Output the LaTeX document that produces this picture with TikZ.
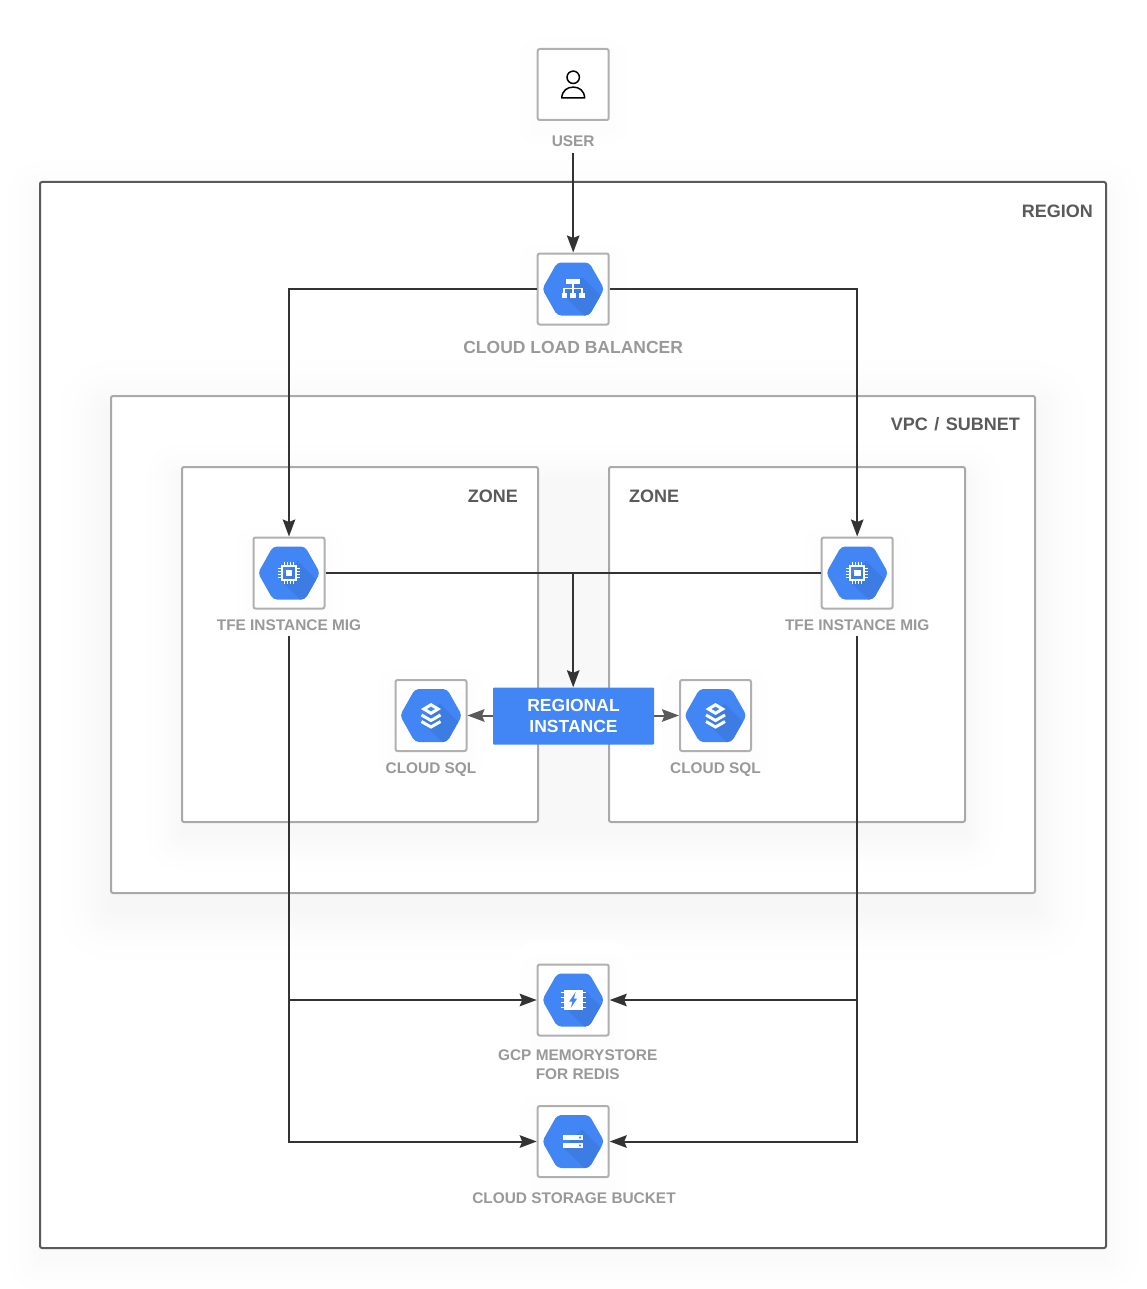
\documentclass[tikz,border=0pt]{standalone}
\usepackage{fontspec}
\setmainfont{Liberation Sans}
\usetikzlibrary{arrows.meta}
\usetikzlibrary{positioning}
\definecolor{gcpblue}{HTML}{4285F4}
\definecolor{gcpdark}{HTML}{3D7CE2}
\definecolor{boxgray}{HTML}{B0B0B0}
\definecolor{framegray}{HTML}{A9A9A9}
\definecolor{textgray}{HTML}{999999}
\definecolor{titlegray}{HTML}{5A5A5A}
\definecolor{linedark}{HTML}{333333}
\definecolor{linegray}{HTML}{5A5A5A}
% soft shadow: centre x, centre y, width, height, spread, peak
\newcommand{\softshadow}[6]{
    \foreach \k in {24,23,...,1} {
        \pgfmathsetmacro{\sh}{#5*\k/24}
        \pgfmathsetmacro{\gr}{#6*(1-\k/24)^2}
        \fill[black!\gr, rounded corners=\sh pt] (#1-#3/2-\sh, #2-#4/2-\sh+#5/4) rectangle (#1+#3/2+\sh, #2+#4/2+\sh+#5/4);
    }
}
\tikzset{
    iconbox/.style={draw=boxgray, line width=2pt, rounded corners=2pt, fill=white, minimum size=71pt, inner sep=0pt},
    framebox/.style={draw=framegray, line width=2pt, rounded corners=2pt, fill=white, inner sep=0pt},
    icontext/.style={text=textgray, font=\fontsize{15.4}{19}\selectfont\bfseries, align=center, inner sep=0pt},
    frametitle/.style={text=titlegray, font=\fontsize{18}{21}\selectfont\bfseries, inner sep=0pt},
    conn/.style={draw=linedark, line width=2pt},
    arr/.style={conn, -{Stealth[length=17pt, width=12.5pt, inset=2.5pt]}},
    arrgray/.style={draw=linegray, line width=2pt, -{Stealth[length=17pt, width=12.5pt, inset=2.5pt]}},
    pics/hexbase/.style={code={
        \begin{scope}
            \clip[rounded corners=4pt] (-31,0) -- (-16,-26.5) -- (16,-26.5) -- (31,0) -- (16,26.5) -- (-16,26.5) -- cycle;
            \fill[gcpblue] (-32,-28) rectangle (32,28);
            \fill[gcpdark] (9,-12) -- (32,11) -- (14,29) -- (-10,6) -- cycle;
        \end{scope}
    }},
    pics/lbicon/.style={code={
        \pic {hexbase};
        \fill[white] (-7,-10) rectangle (7,-5);
        \fill[white] (-11.5,4) rectangle (-6,9);
        \fill[white] (-3,4) rectangle (3,9);
        \fill[white] (6,4) rectangle (11.5,9);
        \draw[white, line width=1.6pt] (0,-5) -- (0,4) (-9,4) -- (-9,-0.5) -- (9,-0.5) -- (9,4);
    }},
    pics/chipicon/.style={code={
        \pic {hexbase};
        \draw[white, line width=2pt] (-7,-7) rectangle (7,7);
        \fill[white] (-3.3,-3.3) rectangle (3.3,3.3);
        \foreach \p in {-4.5,-1.5,1.5,4.5} {
            \draw[white, line width=1.2pt] (\p,-11) -- (\p,-7) (\p,7) -- (\p,11) (-11,\p) -- (-7,\p) (7,\p) -- (11,\p);
        }
    }},
    pics/sqlicon/.style={code={
        \pic {hexbase};
        \fill[white] (0,-12.5) -- (10,-6.5) -- (0,-0.5) -- (-10,-6.5) -- cycle;
        \fill[gcpblue] (0,-8.8) -- (4,-6.5) -- (0,-4.2) -- (-4,-6.5) -- cycle;
        \draw[white, line width=3pt] (-9.5,-0.5) -- (0,5) -- (9.5,-0.5);
        \draw[white, line width=3pt] (-9.5,6) -- (0,11.5) -- (9.5,6);
    }},
    pics/redisicon/.style={code={
        \pic {hexbase};
        \fill[white] (-9.3,-10) rectangle (9.3,10);
        \foreach \p in {-7.5,-2.5,2.5,7.5} {
            \draw[white, line width=1.5pt] (-12.7,\p) -- (-9,\p) (9,\p) -- (12.7,\p);
        }
        \fill[gcpblue] (2.5,-8) -- (-4,1.5) -- (-0.7,1.5) -- (-2.5,8) -- (4,-1.5) -- (0.7,-1.5) -- cycle;
    }},
    pics/bucketicon/.style={code={
        \pic {hexbase};
        \fill[white] (-10,-6.5) rectangle (10,-1.5);
        \fill[white] (-10,1.5) rectangle (10,6.5);
        \fill[gcpblue] (6,-4.8) rectangle (8,-3.2) (6,3.2) rectangle (8,4.8);
    }},
    pics/usericon/.style={code={
        \draw[black, line width=1.5pt] (0,-7.2) circle (6.2);
        \draw[black, line width=1.5pt, line join=round] (-11.5,13.5) -- (11.5,13.5) .. controls (11,6) and (6,2.6) .. (0,2.6) .. controls (-6,2.6) and (-11,6) .. cycle;
    }}
}
\begin{document}
\begin{tikzpicture}[x=1pt, y=-1pt]
    \useasboundingbox (0,0) rectangle (1147,1289);
    % frames
    \softshadow{573}{715}{1066}{1066}{44}{2}
    \node[framebox, draw=linegray, minimum width=1066pt, minimum height=1066pt] (region) at (573,715) {};
    \softshadow{573}{644.5}{924}{497}{64}{3.5}
    \node[framebox, minimum width=924pt, minimum height=497pt] (vpc) at (573,644.5) {};
    \softshadow{573.5}{644.5}{783}{355}{48}{3}
    \node[framebox, minimum width=356pt, minimum height=355pt] (zonel) at (360,644.5) {};
    \node[framebox, minimum width=356pt, minimum height=355pt] (zoner) at (787,644.5) {};
    \node[frametitle, anchor=north east] (regiontitle) at (1093,204.5) {REGION};
    \node[frametitle, anchor=north east] (vpctitle) at (1020,417.5) {VPC\hspace{1.5pt} /\hspace{1.5pt} SUBNET};
    \node[frametitle, anchor=north east] (zoneltitle) at (518,489.5) {ZONE};
    \node[frametitle, anchor=north west] (zonertitle) at (629,489.5) {ZONE};
    % icons
    \foreach \x/\y in {573.2/84.5, 573.2/289, 289/573, 857.2/573, 431/715.5, 715.5/715.5, 573.2/1000, 573.2/1141.5} {
        \softshadow{\x}{\y}{71}{71}{30}{1}
    }
    \node[iconbox] (user) at (573.2,84.5) {};
    \node[iconbox] (lb) at (573.2,289) {};
    \node[iconbox] (migl) at (289,573) {};
    \node[iconbox] (migr) at (857.2,573) {};
    \node[iconbox] (sqll) at (431,715.5) {};
    \node[iconbox] (sqlr) at (715.5,715.5) {};
    \node[iconbox] (redis) at (573.2,1000) {};
    \node[iconbox] (bucket) at (573.2,1141.5) {};
    \pic at (user) {usericon};
    \pic at (lb) {lbicon};
    \pic at (migl) {chipicon};
    \pic at (migr) {chipicon};
    \pic at (sqll) {sqlicon};
    \pic at (sqlr) {sqlicon};
    \pic at (redis) {redisicon};
    \pic at (bucket) {bucketicon};
    \node[fill=gcpblue, rounded corners=1pt, minimum width=161pt, minimum height=57pt, inner sep=0pt, text=white, align=center, font=\fontsize{17.5}{21}\selectfont\bfseries] (regional) at (573.5,716) {REGIONAL\\INSTANCE};
    % labels
    \node[icontext, below=15pt of user] (userlabel) {USER};
    \node[icontext, font=\fontsize{17.5}{21}\selectfont\bfseries, below=16pt of lb] (lblabel) {CLOUD LOAD BALANCER};
    \node[icontext, below=10pt of migl] (migllabel) {TFE INSTANCE MIG};
    \node[icontext, below=10pt of migr] (migrlabel) {TFE INSTANCE MIG};
    \node[icontext, below=11pt of sqll] (sqlllabel) {CLOUD SQL};
    \node[icontext, below=11pt of sqlr] (sqlrlabel) {CLOUD SQL};
    \node[icontext, below=13pt of redis, xshift=4.5pt] (redislabel) {GCP MEMORYSTORE\\FOR REDIS};
    \node[icontext, below=15pt of bucket, xshift=0.8pt] (bucketlabel) {CLOUD STORAGE BUCKET};
    % connectors
    \draw[arr] (userlabel.south) ++(0,6) coordinate (userout) -- (lb.north);
    \draw[arr] (lb.west) -| (migl.north);
    \draw[arr] (lb.east) -| (migr.north);
    \draw[conn] (migl.east) -- (migr.west);
    \draw[arr] (lb |- migl) -- (lb |- regional.north);
    \draw[arrgray] (regional.west |- sqll) -- (sqll.east);
    \draw[arrgray] (regional.east |- sqlr) -- (sqlr.west);
    \draw[arr] (migllabel.south -| migl) ++(0,5) coordinate (leftout) |- (bucket.west);
    \draw[arr] (migrlabel.south -| migr) ++(0,5) coordinate (rightout) |- (bucket.east);
    \draw[arr] (migl |- redis) -- (redis.west);
    \draw[arr] (migr |- redis) -- (redis.east);
\end{tikzpicture}
\end{document}
